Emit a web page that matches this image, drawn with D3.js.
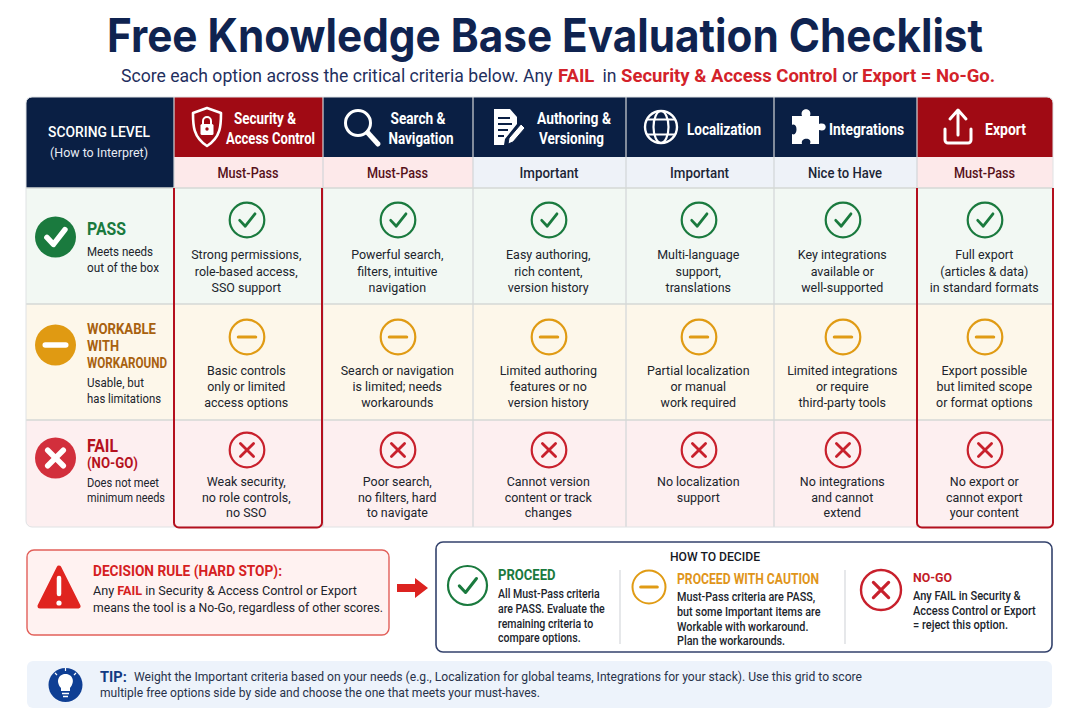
<!DOCTYPE html>
<html><head><meta charset="utf-8">
<script src="https://cdn.jsdelivr.net/npm/d3@7/dist/d3.min.js"></script>
<style>html,body{margin:0;padding:0;background:#fff}svg{display:block}text{font-family:Roboto,"Noto Sans",sans-serif}</style>
</head><body><svg id="c" width="1080" height="720"></svg>
<script>
const columns=["Security & Access Control","Search & Navigation","Authoring & Versioning","Localization","Integrations","Export"];
const headerLines=[["Security &","Access Control"],["Search &","Navigation"],["Authoring &","Versioning"],["Localization"],["Integrations"],["Export"]];
const priorities=["Must-Pass","Must-Pass","Important","Important","Nice to Have","Must-Pass"];
const levels=["pass","work","fail"];
const passText=[["Strong permissions,","role-based access,","SSO support"],["Powerful search,","filters, intuitive","navigation"],["Easy authoring,","rich content,","version history"],["Multi-language","support,","translations"],["Key integrations","available or","well-supported"],["Full export","(articles & data)","in standard formats"]];
const workText=[["Basic controls","only or limited","access options"],["Search or navigation","is limited; needs","workarounds"],["Limited authoring","features or no","version history"],["Partial localization","or manual","work required"],["Limited integrations","or require","third-party tools"],["Export possible","but limited scope","or format options"]];
const failText=[["Weak security,","no role controls,","no SSO"],["Poor search,","no filters, hard","to navigate"],["Cannot version","content or track","changes"],["No localization","support"],["No integrations","and cannot","extend"],["No export or","cannot export","your content"]];
const levelTitles={pass:["PASS"],work:["WORKABLE","WITH","WORKAROUND"],fail:["FAIL","(NO-GO)"]};
const levelNotes={pass:["Meets needs","out of the box"],work:["Usable, but","has limitations"],fail:["Does not meet","minimum needs"]};
const cellTexts={pass:passText,work:workText,fail:failText};

const C={navy:"#0a1f44",red:"#a00a14",green:"#1a7a3e",amber:"#e09b14",crimson:"#c8202c",ink:"#20242c"};
const colEdges=[174,323,473,626,774,917,1053];
const x0=d3.scaleOrdinal(columns,colEdges.slice(0,6));
const x1=d3.scaleOrdinal(columns,colEdges.slice(1));
const ringX=d3.scaleOrdinal(columns,[247,398,549,699,843,985]);
const rowTop=d3.scaleOrdinal(levels,[188,304,420]);
const rowBot=d3.scaleOrdinal(levels,[304,420,527]);
const rowFill=d3.scaleOrdinal(levels,["#f2f8f3","#fdf7ea","#fdeff0"]);
const iconY=d3.scaleOrdinal(levels,[220,337,450]);
const textY=d3.scaleOrdinal(levels,[254.5,370,481.5]);
const textStep=d3.scaleOrdinal(levels,[16.4,16.2,15.5]);
const bigY=d3.scaleOrdinal(levels,[237,345,458]);
const levelCol=d3.scaleOrdinal(levels,[C.green,C.amber,C.crimson]);
const titleCol=d3.scaleOrdinal(levels,["#1a7a3e","#a8610f","#b5121e"]);

const svg=d3.select("#c");
function T(g,x,y,s,o={}){
  const t=g.append("text").attr("x",x).attr("y",y).attr("dy",".35em")
   .attr("text-anchor",o.a||"start").attr("font-size",o.s||13.2).attr("font-weight",o.w||400)
   .attr("fill",o.c||C.ink).text(s);
  if(o.f)t.style("font-family",o.f);
  if(o.k){const L=t.node().getComputedTextLength();t.attr("textLength",L*o.k).attr("lengthAdjust","spacingAndGlyphs");}
  if(o.L){t.attr("textLength",o.L).attr("lengthAdjust","spacingAndGlyphs");}
  return t;
}
function glyph(g,k,cx,cy,r,col,sw){
  if(k==="pass")g.append("path").attr("d",`M${cx-r*.42},${cy+r*.02}L${cx-r*.1},${cy+r*.36}L${cx+r*.46},${cy-r*.36}`).attr("fill","none").attr("stroke",col).attr("stroke-width",sw).attr("stroke-linecap","round").attr("stroke-linejoin","round");
  if(k==="work")g.append("line").attr("x1",cx-r*.5).attr("x2",cx+r*.5).attr("y1",cy).attr("y2",cy).attr("stroke",col).attr("stroke-width",sw).attr("stroke-linecap","round");
  if(k==="fail")g.append("path").attr("d",`M${cx-r*.38},${cy-r*.38}L${cx+r*.38},${cy+r*.38}M${cx+r*.38},${cy-r*.38}L${cx-r*.38},${cy+r*.38}`).attr("stroke",col).attr("stroke-width",sw).attr("stroke-linecap","round");
}
function ring(g,k,cx,cy,r,sw,gs){
  g.append("circle").attr("cx",cx).attr("cy",cy).attr("r",r).attr("fill","none").attr("stroke",levelCol(k)).attr("stroke-width",sw);
  glyph(g,k,cx,cy,r,levelCol(k),gs);
}

// title
T(svg,545,36,"Free Knowledge Base Evaluation Checklist",{a:"middle",s:46,w:700,c:"#0f2350",f:"Inter,Roboto,sans-serif",L:876});
const subtitleParts=["Score each option across the critical criteria below. Any","FAIL","in","Security & Access Control","or","Export = No-Go."];
const subStart=[121,558,602.5,621,842,862];
subtitleParts.forEach((s,i)=>{const b=i%2===1;T(svg,subStart[i],76,s,{s:b?18.5:17.6,w:b?700:400,c:b?"#d3222a":"#1f2f5e"});});

// table clip
svg.append("clipPath").attr("id","tc").append("rect").attr("x",26).attr("y",97).attr("width",1027).attr("height",430).attr("rx",6);
const tb=svg.append("g").attr("clip-path","url(#tc)");
tb.append("rect").attr("x",26).attr("y",97).attr("width",148).attr("height",91).attr("fill",C.navy);
levels.forEach(k=>tb.append("rect").attr("x",26).attr("y",rowTop(k)).attr("width",1027).attr("height",rowBot(k)-rowTop(k)).attr("fill",rowFill(k)));
columns.forEach((c,i)=>{
  const must=priorities[i]==="Must-Pass";
  tb.append("rect").attr("x",x0(c)).attr("y",97).attr("width",x1(c)-x0(c)).attr("height",60).attr("fill",(i===0||i===5)?C.red:C.navy);
  tb.append("rect").attr("x",x0(c)).attr("y",157).attr("width",x1(c)-x0(c)).attr("height",31).attr("fill",must?"#fde9ea":"#eef2f8");
  tb.append("line").attr("x1",x0(c)).attr("x2",x0(c)).attr("y1",97).attr("y2",527).attr("stroke","#d2d6d8").attr("stroke-width",1.2);
});
levels.forEach(k=>tb.append("line").attr("x1",26).attr("x2",1053).attr("y1",rowTop(k)).attr("y2",rowTop(k)).attr("stroke","#d4d8d6").attr("stroke-width",1.4));
svg.append("rect").attr("x",26).attr("y",97).attr("width",1027).attr("height",430).attr("rx",6).attr("fill","none").attr("stroke","#dfe2e4");

T(svg,99,132,"SCORING LEVEL",{a:"middle",s:14.5,w:500,c:"#fff",L:102});
T(svg,99,152,"(How to Interpret)",{a:"middle",s:13.4,c:"#e8ecf4",L:98});

// header icons
const ic=svg.append("g");
function icon(i,cx,cy){
  const g=ic.append("g").attr("transform",`translate(${cx},${cy})`);
  const w="#fff";
  if(i===0){
    g.append("path").attr("d","M0,-19L14,-14C14,-2 14,10 0,19C-14,10 -14,-2 -14,-14Z").attr("fill","none").attr("stroke",w).attr("stroke-width",2.6).attr("stroke-linejoin","round");
    g.append("rect").attr("x",-6.5).attr("y",-3).attr("width",13).attr("height",11).attr("rx",1.5).attr("fill",w);
    g.append("path").attr("d","M-4,-3V-6A4,4 0 0 1 4,-6V-3").attr("fill","none").attr("stroke",w).attr("stroke-width",2);
    g.append("circle").attr("cy",2).attr("r",1.7).attr("fill",C.red);
  }
  if(i===1){
    g.append("circle").attr("cx",-4).attr("cy",-4).attr("r",12.5).attr("fill","none").attr("stroke",w).attr("stroke-width",3);
    g.append("line").attr("x1",6).attr("y1",6).attr("x2",16).attr("y2",17).attr("stroke",w).attr("stroke-width",5).attr("stroke-linecap","round");
  }
  if(i===2){
    g.append("path").attr("d","M-13,-18H3L10,-10V-3L-2,12L-3,18H-13Z").attr("fill",w);
    g.append("path").attr("d","M-9,-9H3M-9,-3H5M-9,3H1M-9,9H-3").attr("stroke",C.navy).attr("stroke-width",2);
    g.append("path").attr("d","M1,17L2,11L14,-3L18,1L6,15Z").attr("fill",w).attr("stroke",C.navy).attr("stroke-width",1);
  }
  if(i===3){
    g.append("circle").attr("r",16).attr("fill","none").attr("stroke",w).attr("stroke-width",2.4);
    g.append("ellipse").attr("rx",7.5).attr("ry",16).attr("fill","none").attr("stroke",w).attr("stroke-width",2.2);
    g.append("path").attr("d","M-14,-7.5H14M-14,7.5H14").attr("stroke",w).attr("stroke-width",2.2);
  }
  if(i===4){
    g.append("path").attr("d","M-15,-11H-5C-8,-20 6,-20 3,-11H12V-3C21,-6 21,6 12,3V17H3C6,10 -7,10 -5,17H-15V7C-9,10 -9,-5 -15,-2Z").attr("fill",w);
  }
  if(i===5){
    g.append("path").attr("d","M-13,2V13A3,3 0 0 0 -10,16H10A3,3 0 0 0 13,13V2").attr("fill","none").attr("stroke",w).attr("stroke-width",3).attr("stroke-linecap","round");
    g.append("path").attr("d","M0,8V-16M-8,-8L0,-17L8,-8").attr("fill","none").attr("stroke",w).attr("stroke-width",3).attr("stroke-linecap","round").attr("stroke-linejoin","round");
  }
}
const iconX=[207,362,507,661,807,958];
const labelX=[[265,270.5],[418,421],[574,571.5],[724],[866.5],[1005.5]];
const labelLen=[[62,89],[55,65],[74,65],[74],[75],[41]];
const prioLen=[61,61,59,59,74,61];
columns.forEach((c,i)=>{
  icon(i,iconX[i],127);
  const ls=headerLines[i];
  ls.forEach((l,j)=>T(svg,labelX[i][j],(ls.length===2?118:129)+j*20,l,{a:"middle",s:17,w:700,c:"#fff",L:labelLen[i][j]}));
  const cx=(x0(c)+x1(c))/2;
  const m=priorities[i]==="Must-Pass";
  T(svg,cx-0.5,173,priorities[i],{a:"middle",s:14.5,w:500,c:m?"#561019":"#1c2536",L:prioLen[i]});
  levels.forEach(k=>{
    ring(svg,k,ringX(c),iconY(k),17.3,2.2,k==="work"?3.2:2.8);
    cellTexts[k][i].forEach((l,j)=>T(svg,ringX(c)-0.7,textY(k)+j*textStep(k),l,{a:"middle",s:13.4,k:.93}));
  });
});

// left column
levels.forEach(k=>{
  svg.append("circle").attr("cx",55.5).attr("cy",bigY(k)).attr("r",20.5).attr("fill",k==="pass"?C.green:k==="work"?"#e09a12":"#d22f3c");
  glyph(svg,k,55.5,bigY(k),20.5,"#fff",5.5);
});
const tY={pass:[229],work:[329,346,363],fail:[446,463]};
const nY={pass:[252,268],work:[383,399],fail:[483,498]};
const titleLen={pass:[39],work:[69,32,80],fail:[31,51]};
const noteLen={pass:[66,72],work:[57,74],fail:[72,78]};
levels.forEach(k=>{
  levelTitles[k].forEach((l,j)=>{
    const big=(k!=="work"&&j===0);
    T(svg,87,tY[k][j],l,{s:big?17.5:14.8,w:700,c:titleCol(k),L:titleLen[k][j]});
  });
  levelNotes[k].forEach((l,j)=>T(svg,87,nY[k][j],l,{s:12.8,L:noteLen[k][j]}));
});

// must-pass outlines (sides and bottom only; the top stays open under the sub-header)
[[174,322],[917,1053]].forEach(([a,b])=>svg.append("path")
  .attr("d",`M${a},188V522A5,5 0 0 0 ${a+5},527.5H${b-5}A5,5 0 0 0 ${b},522V188`)
  .attr("fill","none").attr("stroke","#b4101e").attr("stroke-width",2));

// decision rule
const dr=svg.append("g");
dr.append("rect").attr("x",27).attr("y",550).attr("width",362).attr("height",85).attr("rx",7).attr("fill","#fff2f1").attr("stroke","#e2605a").attr("stroke-width",1.4);
dr.append("path").attr("d","M59,568L78,606H40Z").attr("fill","#e0241f").attr("stroke","#e0241f").attr("stroke-width",5).attr("stroke-linejoin","round");
dr.append("line").attr("x1",59).attr("x2",59).attr("y1",578).attr("y2",594).attr("stroke","#fff").attr("stroke-width",4.5).attr("stroke-linecap","round");
dr.append("circle").attr("cx",59).attr("cy",603).attr("r",2.6).attr("fill","#fff");
T(dr,93,570.5,"DECISION RULE (HARD STOP):",{s:14.4,w:700,c:"#d5201f",L:189});
const ln=dr.append("text").attr("x",93).attr("y",590.5).attr("dy",".35em").attr("font-size",13.4).attr("fill",C.ink);
ln.append("tspan").text("Any ");ln.append("tspan").attr("font-weight",700).attr("fill","#d5201f").text("FAIL");ln.append("tspan").text(" in Security & Access Control or Export");
ln.attr("textLength",264).attr("lengthAdjust","spacingAndGlyphs");
T(dr,93,607,"means the tool is a No-Go, regardless of other scores.",{s:13.4,L:290});
dr.append("path").attr("d","M397,584H415V578L428,588L415,598V592H397Z").attr("fill","#dc2320");

// how to decide
const hd=svg.append("g");
hd.append("rect").attr("x",436).attr("y",542).attr("width",616).attr("height",110).attr("rx",7).attr("fill","#fff").attr("stroke","#33426c").attr("stroke-width",1.6);
T(hd,715,556,"HOW TO DECIDE",{a:"middle",s:13,w:500,c:"#15181f",L:90});
hd.selectAll("line.d").data([620,845]).join("line").attr("class","d").attr("x1",d=>d).attr("x2",d=>d).attr("y1",570).attr("y2",644).attr("stroke","#d6d8dc").attr("stroke-width",1.2);
ring(hd,"pass",467.5,585.5,19.5,2.2,3);
ring(hd,"work",649,587,16.5,2,3.2);
ring(hd,"fail",881,590,20,2.4,3.2);
T(hd,498,575,"PROCEED",{s:14.5,w:700,c:C.green,k:.9});
T(hd,677,579,"PROCEED WITH CAUTION",{s:14,w:700,c:"#e0951a",L:142});
T(hd,913,577,"NO-GO",{s:13.5,w:700,c:"#c21a26",L:39});
const proceedLines=["All Must-Pass criteria","are PASS. Evaluate the","remaining criteria to","compare options."];
const cautionLines=["Must-Pass criteria are PASS,","but some Important items are","Workable with workaround.","Plan the workarounds."];
const nogoLines=["Any FAIL in Security &","Access Control or Export","= reject this option."];
proceedLines.forEach((l,j)=>T(hd,498,594+j*14.7,l,{s:12,w:500,k:.88}));
cautionLines.forEach((l,j)=>T(hd,677,597+j*14.7,l,{s:12,w:500,k:.9}));
nogoLines.forEach((l,j)=>T(hd,913,596+j*14.4,l,{s:12,w:500,k:.92}));

// tip
const tp=svg.append("g");
tp.append("rect").attr("x",27).attr("y",661).attr("width",1025).attr("height",47).attr("rx",6).attr("fill","#edf3fb");
tp.append("circle").attr("cx",65.5).attr("cy",685).attr("r",17).attr("fill","#0f3f94");
tp.append("path").attr("d","M61,688C55,681 59,674 65.5,674C72,674 76,681 70,688V691H61Z").attr("fill","#fff");
tp.append("path").attr("d","M62,693.5H69M63,696.5H68").attr("stroke","#fff").attr("stroke-width",1.6);
tp.append("path").attr("d","M65.5,668V671M55,673L57,675M76,673L74,675").attr("stroke","#fff").attr("stroke-width",1.2);
T(tp,100,677,"TIP:",{s:15,w:700,c:"#123a82",k:.97});
T(tp,134,677,"Weight the Important criteria based on your needs (e.g., Localization for global teams, Integrations for your stack). Use this grid to score",{s:12.4,c:"#28324a",L:728});
T(tp,100,692.5,"multiple free options side by side and choose the one that meets your must-haves.",{s:12.4,c:"#28324a",L:440});
</script></body></html>
